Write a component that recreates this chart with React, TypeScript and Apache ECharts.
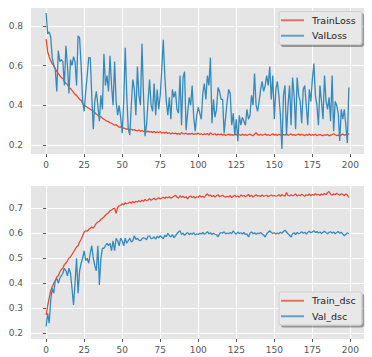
import React, { useEffect, useRef } from "react";
import * as echarts from "echarts";

const trainLoss = [
  0.733, 0.67, 0.645, 0.625, 0.61, 0.6, 0.585, 0.57, 0.56, 0.55,
  0.54, 0.535, 0.52, 0.51, 0.505, 0.49, 0.485, 0.475, 0.465, 0.455,
  0.45, 0.44, 0.43, 0.425, 0.41, 0.4, 0.395, 0.39, 0.385, 0.38,
  0.375, 0.37, 0.365, 0.355, 0.35, 0.345, 0.342, 0.335, 0.33, 0.325,
  0.32, 0.318, 0.312, 0.31, 0.305, 0.3, 0.302, 0.296, 0.29, 0.292,
  0.288, 0.285, 0.283, 0.28, 0.282, 0.277, 0.28, 0.275, 0.278, 0.274,
  0.272, 0.276, 0.27, 0.273, 0.268, 0.271, 0.266, 0.27, 0.265, 0.268,
  0.264, 0.268, 0.262, 0.266, 0.263, 0.267, 0.261, 0.264, 0.26, 0.265,
  0.258, 0.262, 0.256, 0.261, 0.257, 0.26, 0.255, 0.259, 0.254, 0.263,
  0.258, 0.256, 0.26, 0.254, 0.258, 0.255, 0.259, 0.253, 0.257, 0.255,
  0.26, 0.254, 0.257, 0.252, 0.256, 0.254, 0.258, 0.25, 0.262, 0.255,
  0.253, 0.257, 0.25, 0.255, 0.252, 0.256, 0.25, 0.254, 0.248, 0.252,
  0.255, 0.25, 0.253, 0.249, 0.255, 0.251, 0.258, 0.252, 0.249, 0.254,
  0.25, 0.253, 0.248, 0.252, 0.255, 0.25, 0.247, 0.254, 0.262, 0.253,
  0.25, 0.254, 0.249, 0.252, 0.255, 0.25, 0.253, 0.248, 0.252, 0.256,
  0.25, 0.253, 0.249, 0.254, 0.251, 0.248, 0.253, 0.25, 0.255, 0.249,
  0.252, 0.256, 0.25, 0.253, 0.249, 0.252, 0.255, 0.25, 0.254, 0.251,
  0.248, 0.253, 0.25, 0.255, 0.249, 0.252, 0.25, 0.254, 0.248, 0.251,
  0.253, 0.25, 0.247, 0.252, 0.249, 0.254, 0.246, 0.25, 0.253, 0.257,
  0.252, 0.248, 0.25, 0.246, 0.251, 0.255, 0.249, 0.253, 0.25, 0.258,
];

const valLoss = [
  0.865, 0.76, 0.77, 0.745, 0.64, 0.6, 0.58, 0.47, 0.675, 0.62,
  0.63, 0.62, 0.5, 0.7, 0.6, 0.46, 0.63, 0.6, 0.645, 0.62,
  0.5, 0.75, 0.74, 0.6, 0.42, 0.37, 0.47, 0.55, 0.64, 0.64,
  0.45, 0.28, 0.42, 0.47, 0.4, 0.32, 0.45, 0.38, 0.66, 0.5,
  0.55, 0.47, 0.65, 0.5, 0.4, 0.62, 0.42, 0.35, 0.4, 0.34,
  0.26, 0.42, 0.69, 0.45, 0.28, 0.25, 0.4, 0.53, 0.48, 0.35,
  0.595, 0.45, 0.4, 0.71, 0.45, 0.245, 0.3, 0.42, 0.53, 0.4,
  0.37, 0.51, 0.35, 0.48, 0.38, 0.45, 0.58, 0.73, 0.55, 0.42,
  0.35, 0.44, 0.33, 0.48, 0.44, 0.47, 0.38, 0.36, 0.55, 0.3,
  0.54, 0.57, 0.275, 0.36, 0.44, 0.4, 0.5, 0.34, 0.27, 0.35,
  0.39, 0.36, 0.33, 0.46, 0.51, 0.43, 0.55, 0.5, 0.64, 0.31,
  0.43, 0.34, 0.38, 0.49, 0.47, 0.43, 0.43, 0.26, 0.34, 0.42,
  0.48, 0.46, 0.3, 0.36, 0.25, 0.33, 0.22, 0.35, 0.3, 0.34,
  0.32, 0.3, 0.38, 0.33, 0.35, 0.45, 0.4, 0.56, 0.4, 0.37,
  0.42, 0.48, 0.52, 0.47, 0.5, 0.55, 0.5, 0.595, 0.43, 0.55,
  0.33, 0.48, 0.52, 0.45, 0.35, 0.18, 0.45, 0.5, 0.25, 0.4,
  0.5, 0.3, 0.54, 0.45, 0.28, 0.54, 0.45, 0.42, 0.31, 0.48,
  0.5, 0.4, 0.3, 0.48, 0.42, 0.53, 0.61, 0.45, 0.4, 0.3,
  0.5, 0.42, 0.33, 0.55, 0.42, 0.38, 0.44, 0.32, 0.55, 0.27,
  0.42, 0.4, 0.36, 0.22, 0.38, 0.33, 0.38, 0.3, 0.21, 0.49,
];

const trainDsc = [
  0.273, 0.31, 0.34, 0.37, 0.385, 0.4, 0.41, 0.425, 0.43, 0.445,
  0.455, 0.46, 0.475, 0.48, 0.49, 0.5, 0.505, 0.515, 0.525, 0.535,
  0.545, 0.55, 0.565, 0.575, 0.59, 0.605, 0.61, 0.608, 0.615, 0.62,
  0.625, 0.62, 0.63, 0.64, 0.645, 0.648, 0.655, 0.66, 0.665, 0.672,
  0.678, 0.682, 0.69, 0.693, 0.698, 0.7, 0.68, 0.703, 0.71, 0.712,
  0.718, 0.714, 0.722, 0.718, 0.72, 0.725, 0.72, 0.727, 0.722, 0.728,
  0.725, 0.73, 0.726, 0.732, 0.728, 0.735, 0.73, 0.733, 0.738, 0.732,
  0.736, 0.74, 0.734, 0.738, 0.742, 0.737, 0.741, 0.744, 0.739, 0.745,
  0.742, 0.746, 0.74, 0.744, 0.748, 0.752, 0.745, 0.74, 0.75, 0.744,
  0.748, 0.742, 0.746, 0.738, 0.745, 0.749, 0.743, 0.747, 0.741, 0.746,
  0.744, 0.75, 0.745, 0.748, 0.743, 0.752, 0.758, 0.749, 0.753, 0.747,
  0.751, 0.745, 0.75, 0.754, 0.746, 0.749, 0.752, 0.747, 0.744, 0.748,
  0.745, 0.75, 0.743, 0.748, 0.752, 0.746, 0.749, 0.744, 0.753, 0.748,
  0.751, 0.746, 0.75, 0.755, 0.747, 0.752, 0.745, 0.75, 0.754, 0.748,
  0.751, 0.747, 0.753, 0.748, 0.75, 0.752, 0.746, 0.75, 0.753, 0.749,
  0.751, 0.748, 0.75, 0.754, 0.748, 0.755, 0.75, 0.748, 0.763, 0.751,
  0.749, 0.754, 0.75, 0.752, 0.757, 0.749, 0.753, 0.75, 0.756, 0.752,
  0.748, 0.754, 0.751, 0.757, 0.75, 0.755, 0.752, 0.758, 0.753, 0.756,
  0.751, 0.757, 0.753, 0.759, 0.755, 0.762, 0.767, 0.756, 0.752, 0.758,
  0.754, 0.76, 0.756, 0.752, 0.758, 0.755, 0.751, 0.757, 0.753, 0.743,
];

const valDsc = [
  0.227, 0.28, 0.24, 0.33, 0.38, 0.36, 0.41, 0.42, 0.4, 0.42,
  0.43, 0.44, 0.46, 0.45, 0.43, 0.46, 0.44, 0.38, 0.313, 0.4,
  0.5, 0.36, 0.45, 0.48, 0.5, 0.53, 0.49, 0.5, 0.48, 0.52,
  0.55, 0.5, 0.47, 0.45, 0.55, 0.393, 0.5, 0.54, 0.54, 0.55,
  0.56, 0.55, 0.56, 0.53, 0.57, 0.53, 0.58, 0.57, 0.55, 0.58,
  0.57, 0.55, 0.58, 0.56, 0.57, 0.58, 0.565, 0.57, 0.59, 0.575,
  0.58, 0.572, 0.57, 0.578, 0.582, 0.58, 0.574, 0.588, 0.59, 0.578,
  0.58, 0.586, 0.576, 0.588, 0.582, 0.59, 0.584, 0.578, 0.592, 0.586,
  0.6, 0.59, 0.585, 0.595, 0.582, 0.59, 0.598, 0.605, 0.61, 0.595,
  0.6, 0.592, 0.598, 0.603, 0.594, 0.6, 0.596, 0.602, 0.593, 0.598,
  0.595, 0.6, 0.597, 0.603, 0.596, 0.6, 0.606, 0.598, 0.602, 0.595,
  0.6, 0.596, 0.594, 0.586, 0.598, 0.603, 0.6, 0.606, 0.597, 0.601,
  0.598, 0.603, 0.598, 0.61, 0.601, 0.596, 0.605, 0.599, 0.602, 0.597,
  0.603, 0.595, 0.598, 0.585, 0.6, 0.605, 0.598, 0.602, 0.596, 0.601,
  0.598, 0.603, 0.597, 0.592, 0.585, 0.598, 0.604, 0.61, 0.603, 0.599,
  0.602, 0.597, 0.601, 0.598, 0.604, 0.6, 0.607, 0.612, 0.605, 0.598,
  0.592, 0.585, 0.598, 0.602, 0.595, 0.603, 0.598, 0.601, 0.606, 0.6,
  0.604, 0.597, 0.603, 0.608, 0.602, 0.605, 0.61, 0.603, 0.607, 0.601,
  0.605, 0.599, 0.604, 0.608, 0.602, 0.598, 0.604, 0.606, 0.6, 0.605,
  0.598, 0.603, 0.607, 0.6, 0.604, 0.597, 0.59, 0.596, 0.601, 0.599,
];

const xTicks = [0, 25, 50, 75, 100, 125, 150, 175, 200];
const lossTicks = [0.2, 0.4, 0.6, 0.8];
const dscTicks = [0.2, 0.3, 0.4, 0.5, 0.6, 0.7];

const RED = "#E24A33";
const BLUE = "#348ABD";
const FONT = "DejaVu Sans";

const pairs = (arr: number[]) => arr.map((v, i) => [i, v]);

export default function App() {
  const ref = useRef<HTMLDivElement>(null);
  useEffect(() => {
    if (!ref.current) return;
    const chart = echarts.init(ref.current, null, { renderer: "svg" });

    const xAxisBase = (gridIndex: number) => ({
      type: "value" as const,
      gridIndex,
      min: -9.95,
      max: 208.95,
      axisLine: { show: false },
      axisTick: {
        show: true,
        length: 3,
        customValues: xTicks,
        lineStyle: { color: "#555555", width: 1 },
      },
      axisLabel: {
        customValues: xTicks,
        color: "#555555",
        fontFamily: FONT,
        fontSize: 9,
        margin: 6,
      },
      splitLine: { show: true, lineStyle: { color: "#ffffff", width: 1 } },
    });

    const yAxisBase = (gridIndex: number, min: number, max: number, ticks: number[]) => ({
      type: "value" as const,
      gridIndex,
      min,
      max,
      axisLine: { show: false },
      axisTick: {
        show: true,
        length: 3,
        customValues: ticks,
        lineStyle: { color: "#555555", width: 1 },
      },
      axisLabel: {
        customValues: ticks,
        color: "#555555",
        fontFamily: FONT,
        fontSize: 9,
        margin: 8,
        formatter: (v: number) => v.toFixed(1),
      },
      splitLine: { show: true, lineStyle: { color: "#ffffff", width: 1 } },
    });

    const legendBase = (top: number, names: string[]) => ({
      orient: "vertical" as const,
      left: 279,
      top,
      data: names,
      icon: "rect",
      itemWidth: 23,
      itemHeight: 2,
      itemGap: 4,
      padding: [3, 6, 3, 2],
      backgroundColor: "#E8E8E8",
      borderColor: "#cfcfcf",
      borderWidth: 1,
      borderRadius: 2,
      shadowColor: "rgba(0,0,0,0.35)",
      shadowOffsetX: 2,
      shadowOffsetY: 2,
      shadowBlur: 1,
      itemStyle: { opacity: 0.75 },
      textStyle: {
        fontFamily: FONT,
        fontSize: 9.5,
        color: "#222222",
        lineHeight: 11.5,
        padding: [0, 0, 0, 3],
      },
    });

    const line = (name: string, data: number[], color: string, idx: number) => ({
      name,
      type: "line" as const,
      xAxisIndex: idx,
      yAxisIndex: idx,
      data: pairs(data),
      showSymbol: false,
      symbol: "none",
      color,
      lineStyle: { color, width: 1.3 },
    });

    chart.setOption({
      animation: false,
      backgroundColor: "#ffffff",
      grid: [
        { left: 31, top: 8, width: 333, height: 146, show: true, backgroundColor: "#E5E5E5", borderWidth: 0 },
        { left: 31, top: 186, width: 333, height: 153, show: true, backgroundColor: "#E5E5E5", borderWidth: 0 },
      ],
      xAxis: [xAxisBase(0), xAxisBase(1)],
      yAxis: [yAxisBase(0, 0.155, 0.89, lossTicks), yAxisBase(1, 0.177, 0.789, dscTicks)],
      legend: [
        legendBase(11.5, ["TrainLoss", "ValLoss"]),
        legendBase(292, ["Train_dsc", "Val_dsc"]),
      ],
      series: [
        line("TrainLoss", trainLoss, RED, 0),
        line("ValLoss", valLoss, BLUE, 0),
        line("Train_dsc", trainDsc, RED, 1),
        line("Val_dsc", valDsc, BLUE, 1),
      ],
    });
    return () => chart.dispose();
  }, []);
  return (
    <div
      ref={ref}
      style={{ position: "absolute", left: 0, top: 0, width: 372, height: 357 }}
    />
  );
}
